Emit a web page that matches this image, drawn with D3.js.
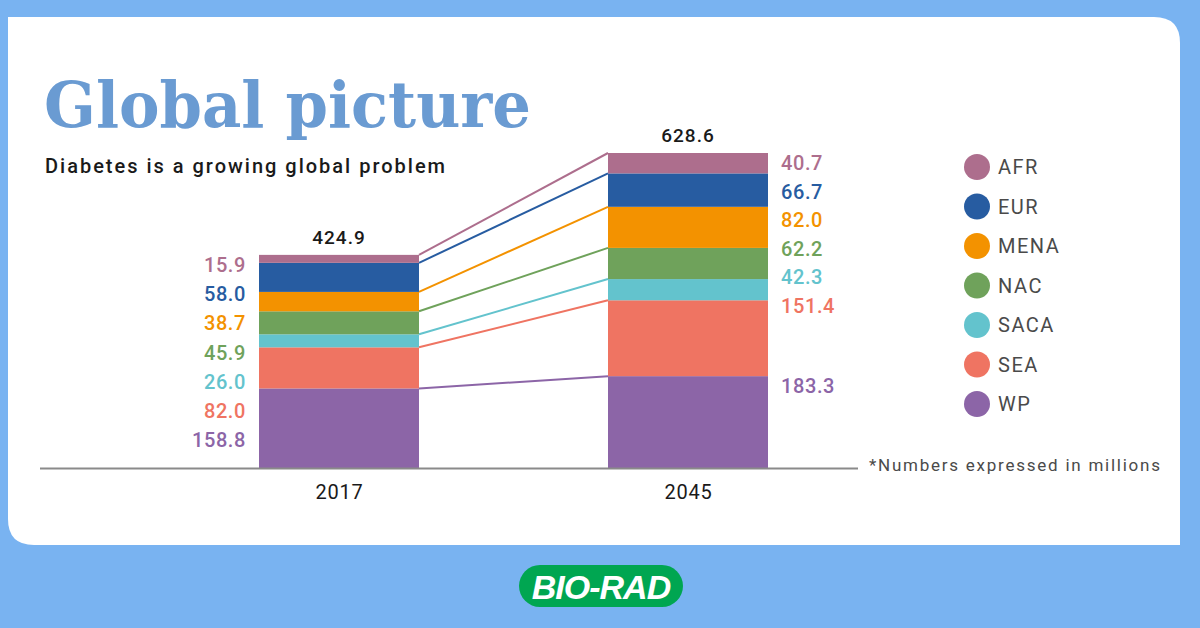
<!DOCTYPE html>
<html>
<head>
<meta charset="utf-8">
<script src="https://cdn.jsdelivr.net/npm/d3@7"></script>
<style>
  html, body { margin: 0; padding: 0; background: #79b3f1; }
  svg { display: block; }
</style>
</head>
<body>
<div id="chart"></div>
<script>
// data
var years = ["2017", "2045"];
var regions = ["WP", "SEA", "SACA", "NAC", "MENA", "EUR", "AFR"]; // bottom to top
var values2017 = [158.8, 82.0, 26.0, 45.9, 38.7, 58.0, 15.9];
var values2045 = [183.3, 151.4, 42.3, 62.2, 82.0, 66.7, 40.7];
var totals = [424.9, 628.6];
var legendOrder = ["AFR", "EUR", "MENA", "NAC", "SACA", "SEA", "WP"];

var colors = {
    AFR: "#ad6e8d",
    EUR: "#275ca1",
    MENA: "#f39200",
    NAC: "#6fa25b",
    SACA: "#63c3cd",
    SEA: "#ef7462",
    WP: "#8c65a7"
};

var W = 1200, H = 628;
var svg = d3.select("#chart").append("svg")
    .attr("width", W)
    .attr("height", H);

// white card, square top-left and bottom-right corners
var cx0 = 8, cy0 = 17, cx1 = 1180, cy1 = 545, r = 26;
svg.append("path")
    .attr("d", "M" + cx0 + "," + cy0 +
        " L" + (cx1 - r) + "," + cy0 +
        " Q" + cx1 + "," + cy0 + " " + cx1 + "," + (cy0 + r) +
        " L" + cx1 + "," + cy1 +
        " L" + (cx0 + r) + "," + cy1 +
        " Q" + cx0 + "," + cy1 + " " + cx0 + "," + (cy1 - r) + " Z")
    .attr("fill", "#ffffff");

// title
svg.append("text")
    .attr("x", 44)
    .attr("y", 127)
    .attr("textLength", 487)
    .attr("lengthAdjust", "spacingAndGlyphs")
    .style("font-family", "'DejaVu Serif'")
    .style("font-weight", "bold")
    .style("font-size", "64px")
    .style("fill", "#6a9bd2")
    .text("Global picture");

svg.append("text")
    .attr("x", 45)
    .attr("y", 173)
    .attr("textLength", 400)
    .style("font-family", "Roboto")
    .style("font-weight", 500)
    .style("font-size", "20px")
    .style("fill", "#1a1a1a")
    .text("Diabetes is a growing global problem");

// scales
var x = d3.scalePoint().domain(years).range([339, 688]);
var y = d3.scaleLinear().domain([0, 628.6]).range([468, 153]);
var barW = 160;

var rows = years.map(function(yr, i) {
    var row = { year: yr };
    regions.forEach(function(k, j) {
        row[k] = (i === 0 ? values2017 : values2045)[j];
    });
    return row;
});
var stacked = d3.stack().keys(regions)(rows);

// connecting lines (top of each segment)
var g = svg.append("g");
stacked.forEach(function(layer) {
    g.append("line")
        .attr("x1", x("2017") + barW / 2)
        .attr("y1", y(layer[0][1]))
        .attr("x2", x("2045") - barW / 2)
        .attr("y2", y(layer[1][1]))
        .attr("stroke", colors[layer.key])
        .attr("stroke-width", 2);
});

// bars
g.selectAll(".layer")
    .data(stacked)
    .enter().append("g")
    .attr("class", "layer")
    .attr("fill", function(d) { return colors[d.key]; })
    .selectAll("rect")
    .data(function(d) { return d; })
    .enter().append("rect")
    .attr("x", function(d) { return x(d.data.year) - barW / 2; })
    .attr("y", function(d) { return y(d[1]); })
    .attr("width", barW)
    .attr("height", function(d) { return y(d[0]) - y(d[1]); });

// axis line
svg.append("line")
    .attr("x1", 40).attr("x2", 858)
    .attr("y1", 468.5).attr("y2", 468.5)
    .attr("stroke", "#8a8a8a")
    .attr("stroke-width", 2);

var axis = d3.axisBottom(x).tickSize(0).tickPadding(17);
svg.append("g")
    .attr("transform", "translate(0,468)")
    .call(axis)
    .call(function(s) { s.select(".domain").remove(); })
    .selectAll("text")
    .style("font-family", "Roboto")
    .style("font-size", "20px")
    .style("letter-spacing", "0.8px")
    .style("fill", "#1a1a1a");

// totals
svg.selectAll(".total")
    .data(years)
    .enter().append("text")
    .attr("class", "total")
    .attr("x", function(d) { return x(d); })
    .attr("y", function(d, i) { return y(totals[i]) - 11; })
    .attr("text-anchor", "middle")
    .style("font-family", "Roboto")
    .style("font-weight", 500)
    .style("font-size", "19px")
    .style("letter-spacing", "1px")
    .style("fill", "#1a1a1a")
    .text(function(d, i) { return totals[i].toFixed(1); });

// value labels, left column for 2017 (evenly spaced, top down)
var labelFont = function(s) {
    s.style("font-family", "Roboto")
     .style("font-weight", 500)
     .style("font-size", "20px")
     .style("letter-spacing", "0.6px");
};
var top2017 = y(totals[0]);
legendOrder.forEach(function(k, i) {
    var j = regions.indexOf(k);
    svg.append("text")
        .attr("x", 246)
        .attr("y", top2017 + 17 + i * 29.2)
        .attr("text-anchor", "end")
        .call(labelFont)
        .style("fill", colors[k])
        .text(values2017[j].toFixed(1));
});

// right column for 2045
var top2045 = y(totals[1]);
legendOrder.forEach(function(k, i) {
    var j = regions.indexOf(k);
    var yy = k === "WP" ? y(values2045[0]) + 17 : top2045 + 17 + i * 28.5;
    svg.append("text")
        .attr("x", 781)
        .attr("y", yy)
        .call(labelFont)
        .style("fill", colors[k])
        .text(values2045[j].toFixed(1));
});

// legend
var legend = svg.append("g").attr("transform", "translate(977,167)");
legend.selectAll("circle")
    .data(legendOrder)
    .enter().append("circle")
    .attr("cx", 0)
    .attr("cy", function(d, i) { return i * 39.5; })
    .attr("r", 13)
    .attr("fill", function(d) { return colors[d]; });
legend.selectAll("text")
    .data(legendOrder)
    .enter().append("text")
    .attr("x", 21)
    .attr("y", function(d, i) { return i * 39.5 + 7; })
    .style("font-family", "Roboto")
    .style("font-size", "20px")
    .style("letter-spacing", "1.5px")
    .style("fill", "#4a4a4a")
    .text(function(d) { return d; });

// footnote
svg.append("text")
    .attr("x", 869)
    .attr("y", 471)
    .attr("textLength", 291)
    .style("font-family", "Roboto")
    .style("font-size", "17px")
    .style("fill", "#4a4a4a")
    .text("*Numbers expressed  in millions");

// logo
svg.append("rect")
    .attr("x", 519).attr("y", 565)
    .attr("width", 164).attr("height", 42)
    .attr("rx", 21)
    .attr("fill", "#00a651");
svg.append("text")
    .attr("x", 601)
    .attr("y", 599)
    .attr("text-anchor", "middle")
    .style("font-family", "'Liberation Sans'")
    .style("font-weight", "bold")
    .style("font-style", "italic")
    .style("font-size", "34px")
    .style("letter-spacing", "-1px")
    .style("fill", "#ffffff")
    .text("BIO-RAD");
</script>
</body>
</html>
